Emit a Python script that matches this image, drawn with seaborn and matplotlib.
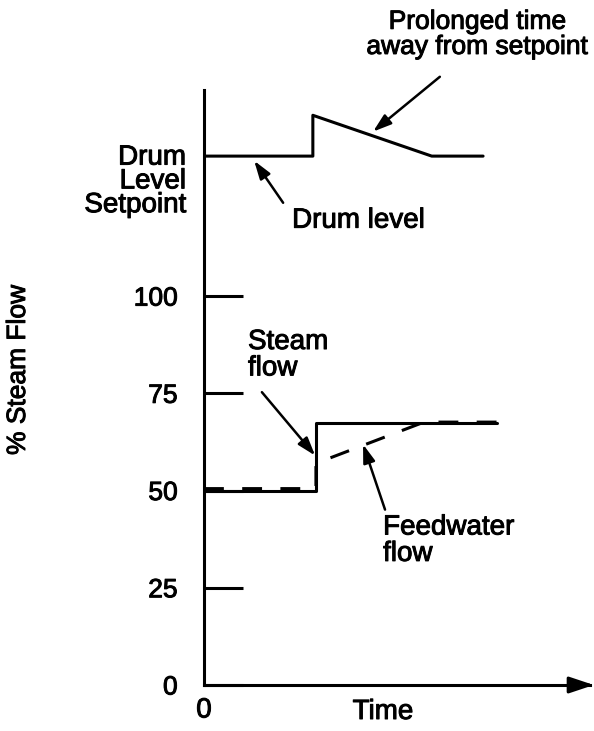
import seaborn as sns
import pandas as pd
import matplotlib.pyplot as plt
import matplotlib.patheffects as pe

# time axis in arbitrary units, y in % steam flow (drum level sits above 100)
drum_t = [0, 2.82, 2.82, 5.9, 7.23]
drum_y = [136, 136, 146.5, 136, 136]

steam_t = [0, 2.9, 2.9, 7.6]
steam_y = [50, 50, 67.3, 67.3]

feed_t = [0, 2.9, 2.9, 5.7, 7.6]
feed_y = [50.5, 50.5, 57, 67.6, 67.6]

ytick_vals = [0, 25, 50, 75, 100]
ytick_labels = ["0", "25", "50", "75", "100"]

sns.set_style("white")
plt.rcParams["font.family"] = ["Liberation Sans", "DejaVu Sans"]
plt.rcParams["text.color"] = "black"
plt.rcParams["axes.labelcolor"] = "black"
plt.rcParams["xtick.color"] = "black"
plt.rcParams["ytick.color"] = "black"

heavy = [pe.withStroke(linewidth=0.7, foreground="black")]

fig = plt.figure(figsize=(5.94, 7.31), dpi=100)
ax = fig.add_axes([204 / 594, 46 / 731, 386 / 594, 595 / 731])

lw = 2.2
drum = pd.DataFrame({"t": drum_t, "y": drum_y})
steam = pd.DataFrame({"t": steam_t, "y": steam_y})
feed = pd.DataFrame({"t": feed_t, "y": feed_y})

sns.lineplot(data=drum, x="t", y="y", sort=False, estimator=None, color="black", linewidth=lw, ax=ax)
sns.lineplot(data=steam, x="t", y="y", sort=False, estimator=None, color="black", linewidth=lw, ax=ax)
sns.lineplot(data=feed, x="t", y="y", sort=False, estimator=None, color="black", linewidth=lw,
             linestyle=(0, (6.5, 6)), ax=ax)

ax.set_xlim(0, 10)
ax.set_ylim(0, 153)

for s in ["top", "right"]:
    ax.spines[s].set_visible(False)
for s in ["left", "bottom"]:
    ax.spines[s].set_linewidth(lw)
    ax.spines[s].set_color("black")

ax.set_yticks(ytick_vals)
ax.set_yticklabels(ytick_labels)
ax.tick_params(axis="y", left=True, direction="in", length=28, width=lw, pad=19, labelsize=19)
ax.set_xticks([0])
ax.set_xticklabels(["0"])
ax.tick_params(axis="x", length=0, pad=9, labelsize=20)
for lab in ax.get_xticklabels() + ax.get_yticklabels():
    lab.set_path_effects(heavy)

ax.set_ylabel("% Steam Flow", fontsize=19, path_effects=heavy)
ax.yaxis.set_label_coords(-(204 - 30) / 386, (685 - 370) / 595)
ax.set_xlabel("Time", fontsize=20, path_effects=heavy)
ax.xaxis.set_label_coords((383 - 204) / 386, -14 / 595)

# arrow head on time axis
ax.annotate("", xy=(10.1, 0), xytext=(9.5, 0), annotation_clip=False,
            arrowprops=dict(arrowstyle="-|>,head_length=0.75,head_width=0.25", color="black",
                            lw=lw, mutation_scale=20, shrinkA=0, shrinkB=0))

ax.text(-0.047, 129.5, "Drum\nLevel\nSetpoint", transform=ax.get_yaxis_transform(),
        ha="right", va="center", fontsize=20, linespacing=0.89, path_effects=heavy)

arrow = dict(arrowstyle="-|>,head_length=0.55,head_width=0.18", color="black", lw=1.8,
             mutation_scale=20, shrinkA=0, shrinkB=0)

ax.text(7.08, 167.3, "Prolonged time\naway from setpoint", ha="center", va="center",
        fontsize=19, linespacing=1.06, clip_on=False, path_effects=heavy)
ax.annotate("", xy=(4.38, 142.3), xytext=(6.11, 156.4), annotation_clip=False, arrowprops=arrow)

ax.text(4.0, 119.4, "Drum level", ha="center", va="center", fontsize=20, path_effects=heavy)
ax.annotate("", xy=(1.30, 134.8), xytext=(2.05, 124), arrowprops=arrow)

ax.text(1.14, 84.8, "Steam\nflow", ha="left", va="center", fontsize=20, linespacing=1.02,
        path_effects=heavy)
ax.annotate("", xy=(2.88, 59), xytext=(1.50, 75.3), arrowprops=arrow)

ax.text(4.64, 37.1, "Feedwater\nflow", ha="left", va="center", fontsize=20, linespacing=1.02,
        path_effects=heavy)
ax.annotate("", xy=(4.12, 61.9), xytext=(4.69, 45.1), arrowprops=arrow)

plt.savefig("out.png", dpi=100)
